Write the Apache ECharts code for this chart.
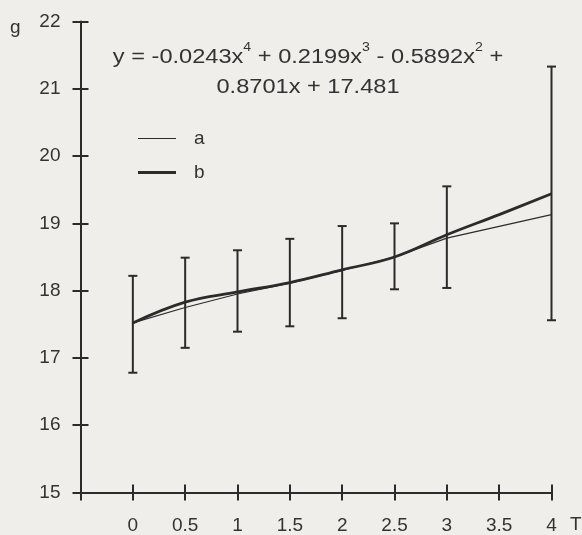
<!DOCTYPE html>
<html>
<head>
<meta charset="utf-8">
<script src="https://cdn.jsdelivr.net/npm/echarts@6/dist/echarts.min.js"></script>
<style>
html,body{margin:0;padding:0;background:#efeeea;}
#c{width:582px;height:535px;}
</style>
</head>
<body>
<div id="c"></div>
<script>
// ---- data ----
var xTicks = [0, 0.5, 1, 1.5, 2, 2.5, 3, 3.5, 4];
var aX = [0, 0.5, 1, 1.5, 2, 2.5, 3, 4];
var aY = [17.52, 17.75, 17.95, 18.11, 18.3, 18.5, 18.78, 19.13];
var bX = [0, 0.5, 1, 1.5, 2, 2.5, 3, 3.5, 4];
var bY = [17.52, 17.83, 17.98, 18.12, 18.31, 18.5, 18.83, 19.13, 19.44];
var errX = [0, 0.5, 1, 1.5, 2, 2.5, 3, 4];
var errLow = [16.78, 17.15, 17.39, 17.47, 17.59, 18.02, 18.04, 17.56];
var errHigh = [18.22, 18.49, 18.60, 18.77, 18.96, 19.0, 19.55, 21.33];
var seriesNames = ['a', 'b'];

var FONT = 'Liberation Sans';
var INK = '#2b2b2b';
var TXT = '#333';

function pairs(xs, ys) { return xs.map(function (x, i) { return [x, ys[i]]; }); }
var errData = errX.map(function (x, i) { return [x, errLow[i], errHigh[i]]; });

var chart = echarts.init(document.getElementById('c'));
function axisLine(show) { return { show: show, onZero: false, lineStyle: { color: INK, width: 2 } }; }
function tick(len) { return { show: true, inside: false, length: len, lineStyle: { color: INK, width: 2 } }; }
var gridBox = { left: 80.5, right: 30.5, top: 21.5, bottom: 42.5, outerBoundsMode: 'none', containLabel: false };
var option = {
  backgroundColor: '#efeeea',
  animation: false,
  textStyle: { fontFamily: FONT },
  grid: [Object.assign({}, gridBox), Object.assign({}, gridBox)],
  legend: {
    orient: 'vertical', left: 133, top: 124,
    itemWidth: 38, itemHeight: 18, itemGap: 15, symbolKeepAspect: true,
    textStyle: { fontFamily: FONT, fontSize: 19, color: TXT, padding: [0, 0, 0, 13] },
    data: [
      { name: seriesNames[0], icon: 'path://M0,0 M38,18 M0,8.4 H38 V9.6 H0 Z' },
      { name: seriesNames[1], icon: 'path://M0,0 M38,18 M0,7.6 H38 V10.4 H0 Z' }
    ]
  },
  xAxis: [
    {
      gridIndex: 0, type: 'value', min: -0.5, max: 4, interval: 0.5,
      axisLine: axisLine(true), splitLine: { show: false }, axisTick: tick(8),
      axisLabel: {
        margin: 24, fontFamily: FONT, fontSize: 19, color: TXT,
        formatter: function (v) { return xTicks.indexOf(v) >= 0 ? String(v) : ''; }
      }
    },
    {
      // same scale, shifted up by 8px: its outward ticks form the inner half of the crossing ticks
      gridIndex: 1, type: 'value', min: -0.5, max: 4, interval: 0.5, offset: -8,
      axisLine: axisLine(false), splitLine: { show: false }, axisTick: tick(8),
      axisLabel: { show: false }
    }
  ],
  yAxis: [
    {
      gridIndex: 0, type: 'value', min: 15, max: 22, interval: 1,
      axisLine: axisLine(true), splitLine: { show: false }, axisTick: tick(8),
      axisLabel: { margin: 20, fontFamily: FONT, fontSize: 19, color: TXT }
    },
    {
      gridIndex: 1, type: 'value', min: 15, max: 22, interval: 1, offset: -8,
      axisLine: axisLine(false), splitLine: { show: false }, axisTick: tick(8),
      axisLabel: { show: false }
    }
  ],
  graphic: [
    { type: 'text', x: 10, y: 28, style: { text: 'g', fontFamily: FONT, fontSize: 19, fill: TXT, verticalAlign: 'middle' } },
    { type: 'text', x: 570, y: 525, style: { text: 'T', fontFamily: FONT, fontSize: 19, fill: TXT, verticalAlign: 'middle' } },
    {
      type: 'text', x: 308, y: 72, scaleX: 1.18,
      style: {
        text: '{n|y = -0.0243x}{s|4}{n| + 0.2199x}{s|3}{n| - 0.5892x}{s|2}{n| +}\n{n|0.8701x + 17.481}',
        align: 'center', verticalAlign: 'middle', fill: TXT,
        rich: {
          n: { fontFamily: FONT, fontSize: 20, lineHeight: 30, fill: TXT },
          s: { fontFamily: FONT, fontSize: 12, lineHeight: 30, verticalAlign: 'top', padding: [0, 0, 10, 0], fill: TXT }
        }
      }
    }
  ],
  series: [
    {
      name: 'a', type: 'line', data: pairs(aX, aY), symbol: 'none', z: 3,
      lineStyle: { color: INK, width: 1.2 }, itemStyle: { color: INK }
    },
    {
      name: 'b', type: 'line', data: pairs(bX, bY), symbol: 'none', smooth: 0.4, z: 4,
      lineStyle: { color: INK, width: 2.8 }, itemStyle: { color: INK }
    },
    {
      name: 'err', type: 'custom', z: 5,
      data: errData,
      encode: { x: 0, y: [1, 2] },
      renderItem: function (params, api) {
        var x = api.value(0);
        var lo = api.coord([x, api.value(1)]);
        var hi = api.coord([x, api.value(2)]);
        var w = 4.5;
        var st = { stroke: INK, lineWidth: 2 };
        return {
          type: 'group',
          children: [
            { type: 'line', shape: { x1: lo[0], y1: lo[1], x2: hi[0], y2: hi[1] }, style: st },
            { type: 'line', shape: { x1: lo[0] - w, y1: lo[1], x2: lo[0] + w, y2: lo[1] }, style: st },
            { type: 'line', shape: { x1: hi[0] - w, y1: hi[1], x2: hi[0] + w, y2: hi[1] }, style: st }
          ]
        };
      }
    }
  ]
};
chart.setOption(option);
</script>
</body>
</html>
